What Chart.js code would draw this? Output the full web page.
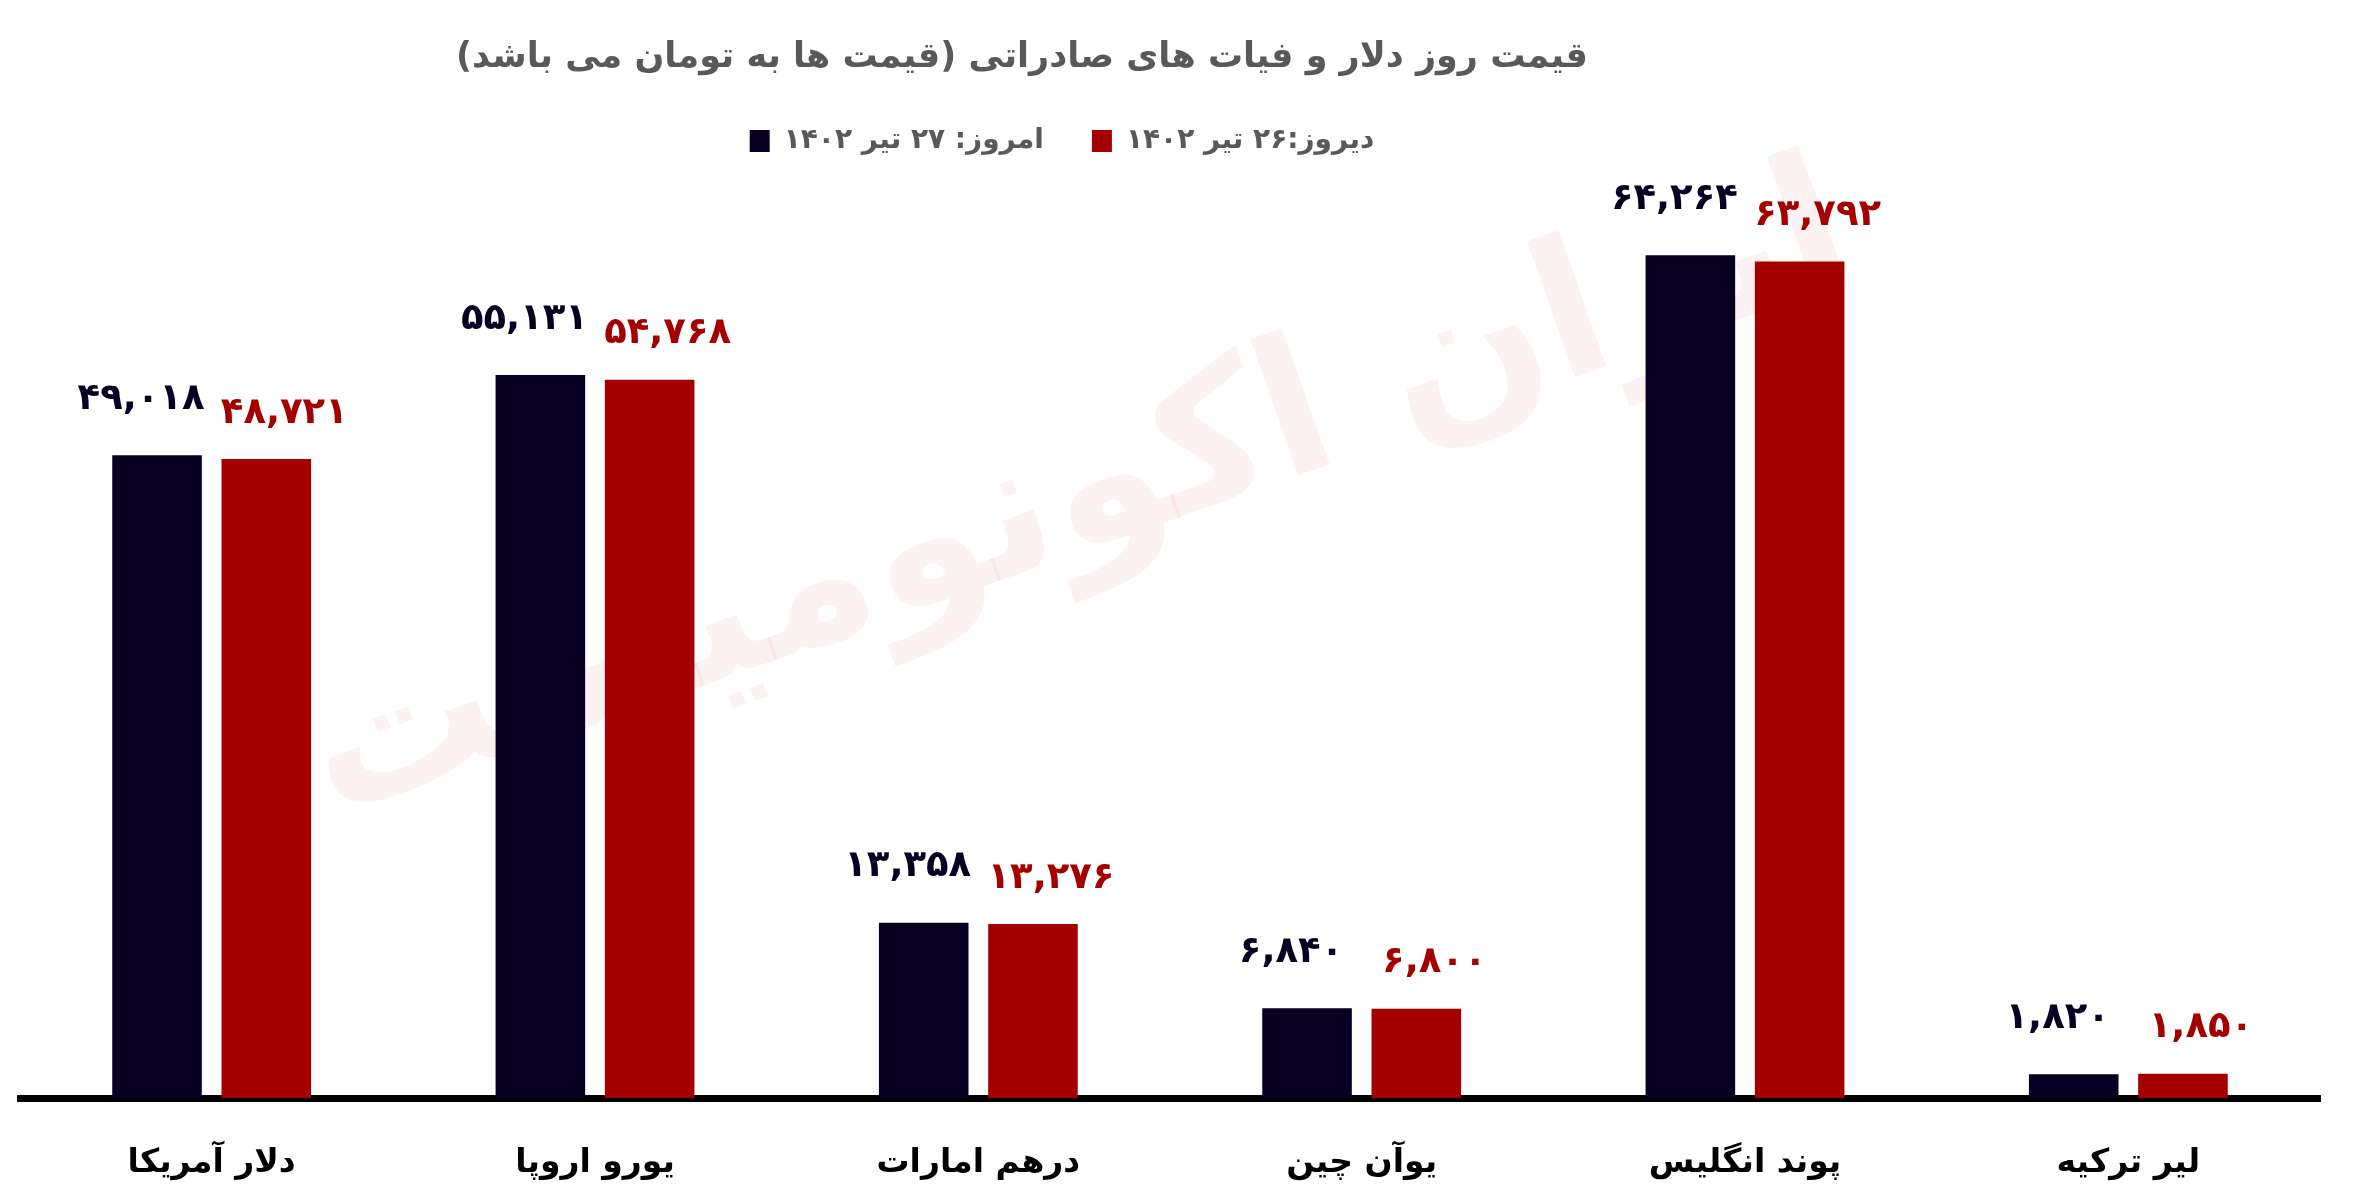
<!DOCTYPE html>
<html lang="fa">
<head>
<meta charset="utf-8">
<script src="https://cdn.jsdelivr.net/npm/chart.js@4.4.0/dist/chart.umd.min.js"></script>
<style>
  html, body { margin: 0; padding: 0; background: #fff; }
  #wrap { width: 2357px; height: 1203px; }
</style>
</head>
<body>
<div id="wrap"><canvas id="chart"></canvas></div>
<script>
// data (toman)
const categories = ['دلار آمریکا', 'یورو اروپا', 'درهم امارات', 'یوآن چین', 'پوند انگلیس', 'لیر ترکیه'];
const todayValues = [49018, 55131, 13358, 6840, 64264, 1820];
const yesterdayValues = [48721, 54768, 13276, 6800, 63792, 1850];
const seriesNames = ['امروز: ۲۷ تیر ۱۴۰۲', 'دیروز:۲۶ تیر ۱۴۰۲'];
const chartTitle = 'قیمت روز دلار و فیات های صادراتی (قیمت ها به تومان می باشد)';
const watermarkText = 'ایران اکونومیست';
const yMax = 70000;

const FONT = "'DejaVu Sans', sans-serif";
const DARK = '#070023';
const RED = '#a50000';
const GREY = '#595959';

// persian digits, latin comma like the original
function faNum(v) {
    const pd = '۰۱۲۳۴۵۶۷۸۹';
    return v.toLocaleString('en-US').replace(/\d/g, d => pd[d]);
}

// label offsets per series (dx, dy above bar top)
const labelShift = [{dx: -16, dy: 56}, {dx: 18, dy: 46}];

const decoPlugin = {
    id: 'deco',
    beforeDatasetsDraw(chart) {
        const ctx = chart.ctx;
        ctx.save();
        ctx.translate(1080, 500);
        ctx.rotate(-0.34);
        ctx.font = 'bold 190px ' + FONT;
        ctx.fillStyle = 'rgba(225, 40, 40, 0.06)';
        ctx.textAlign = 'center';
        ctx.textBaseline = 'middle';
        ctx.direction = 'rtl';
        ctx.fillText(watermarkText, 0, 0);
        ctx.restore();
    },
    afterDatasetsDraw(chart) {
        const ctx = chart.ctx;
        chart.data.datasets.forEach(function (ds, i) {
            const meta = chart.getDatasetMeta(i);
            meta.data.forEach(function (bar, j) {
                ctx.save();
                ctx.font = 'bold 37px ' + FONT;
                ctx.fillStyle = ds.backgroundColor;
                ctx.textAlign = 'center';
                ctx.textBaseline = 'middle';
                ctx.fillText(faNum(ds.data[j]), bar.x + labelShift[i].dx, bar.y - labelShift[i].dy);
                ctx.restore();
            });
        });
    },
    afterDraw(chart) {
        const ctx = chart.ctx;
        // title
        ctx.save();
        ctx.font = 'bold 35px ' + FONT;
        ctx.fillStyle = GREY;
        ctx.textAlign = 'center';
        ctx.textBaseline = 'middle';
        ctx.direction = 'rtl';
        ctx.fillText(chartTitle, 1022, 58);
        ctx.restore();

        // legend, right to left: yesterday first, then today
        ctx.save();
        ctx.font = 'bold 28px ' + FONT;
        ctx.textBaseline = 'middle';
        ctx.direction = 'rtl';
        ctx.textAlign = 'right';
        const items = [
            {text: seriesNames[1], color: RED},
            {text: seriesNames[0], color: DARK}
        ];
        const box = 20, gapBox = 14, gapItem = 48;
        let total = 0;
        items.forEach(function (it, k) {
            it.w = ctx.measureText(it.text).width;
            total += it.w + gapBox + box + (k ? gapItem : 0);
        });
        let x = 1062 + total / 2;
        const y = 141;
        items.forEach(function (it) {
            ctx.fillStyle = GREY;
            ctx.fillText(it.text, x, y);
            x -= it.w + gapBox;
            ctx.fillStyle = it.color;
            ctx.fillRect(x - box, y - 11, box, 22);
            x -= box + gapItem;
        });
        ctx.restore();
    }
};

new Chart(document.getElementById('chart'), {
    type: 'bar',
    plugins: [decoPlugin],
    data: {
        labels: categories,
        datasets: [{
            label: seriesNames[0],
            data: todayValues,
            backgroundColor: DARK,
            borderWidth: 0
        }, {
            label: seriesNames[1],
            data: yesterdayValues,
            backgroundColor: RED,
            borderWidth: 0
        }]
    },
    options: {
        responsive: true,
        maintainAspectRatio: false,
        animation: false,
        categoryPercentage: 0.57,
        barPercentage: 0.82,
        layout: {
            padding: {left: 20, right: 37, top: 180, bottom: 0}
        },
        scales: {
            x: {
                z: 1,
                grid: {display: false, drawTicks: false},
                border: {display: true, color: '#000', width: 7},
                ticks: {
                    color: '#000',
                    padding: 46,
                    font: {family: FONT, size: 33, weight: 'bold'}
                },
                afterFit: function (scale) {
                    scale.height = 105;
                }
            },
            y: {
                display: false,
                min: 0,
                max: yMax
            }
        },
        plugins: {
            legend: {display: false},
            title: {display: false},
            tooltip: {enabled: false}
        }
    }
});
</script>
</body>
</html>
